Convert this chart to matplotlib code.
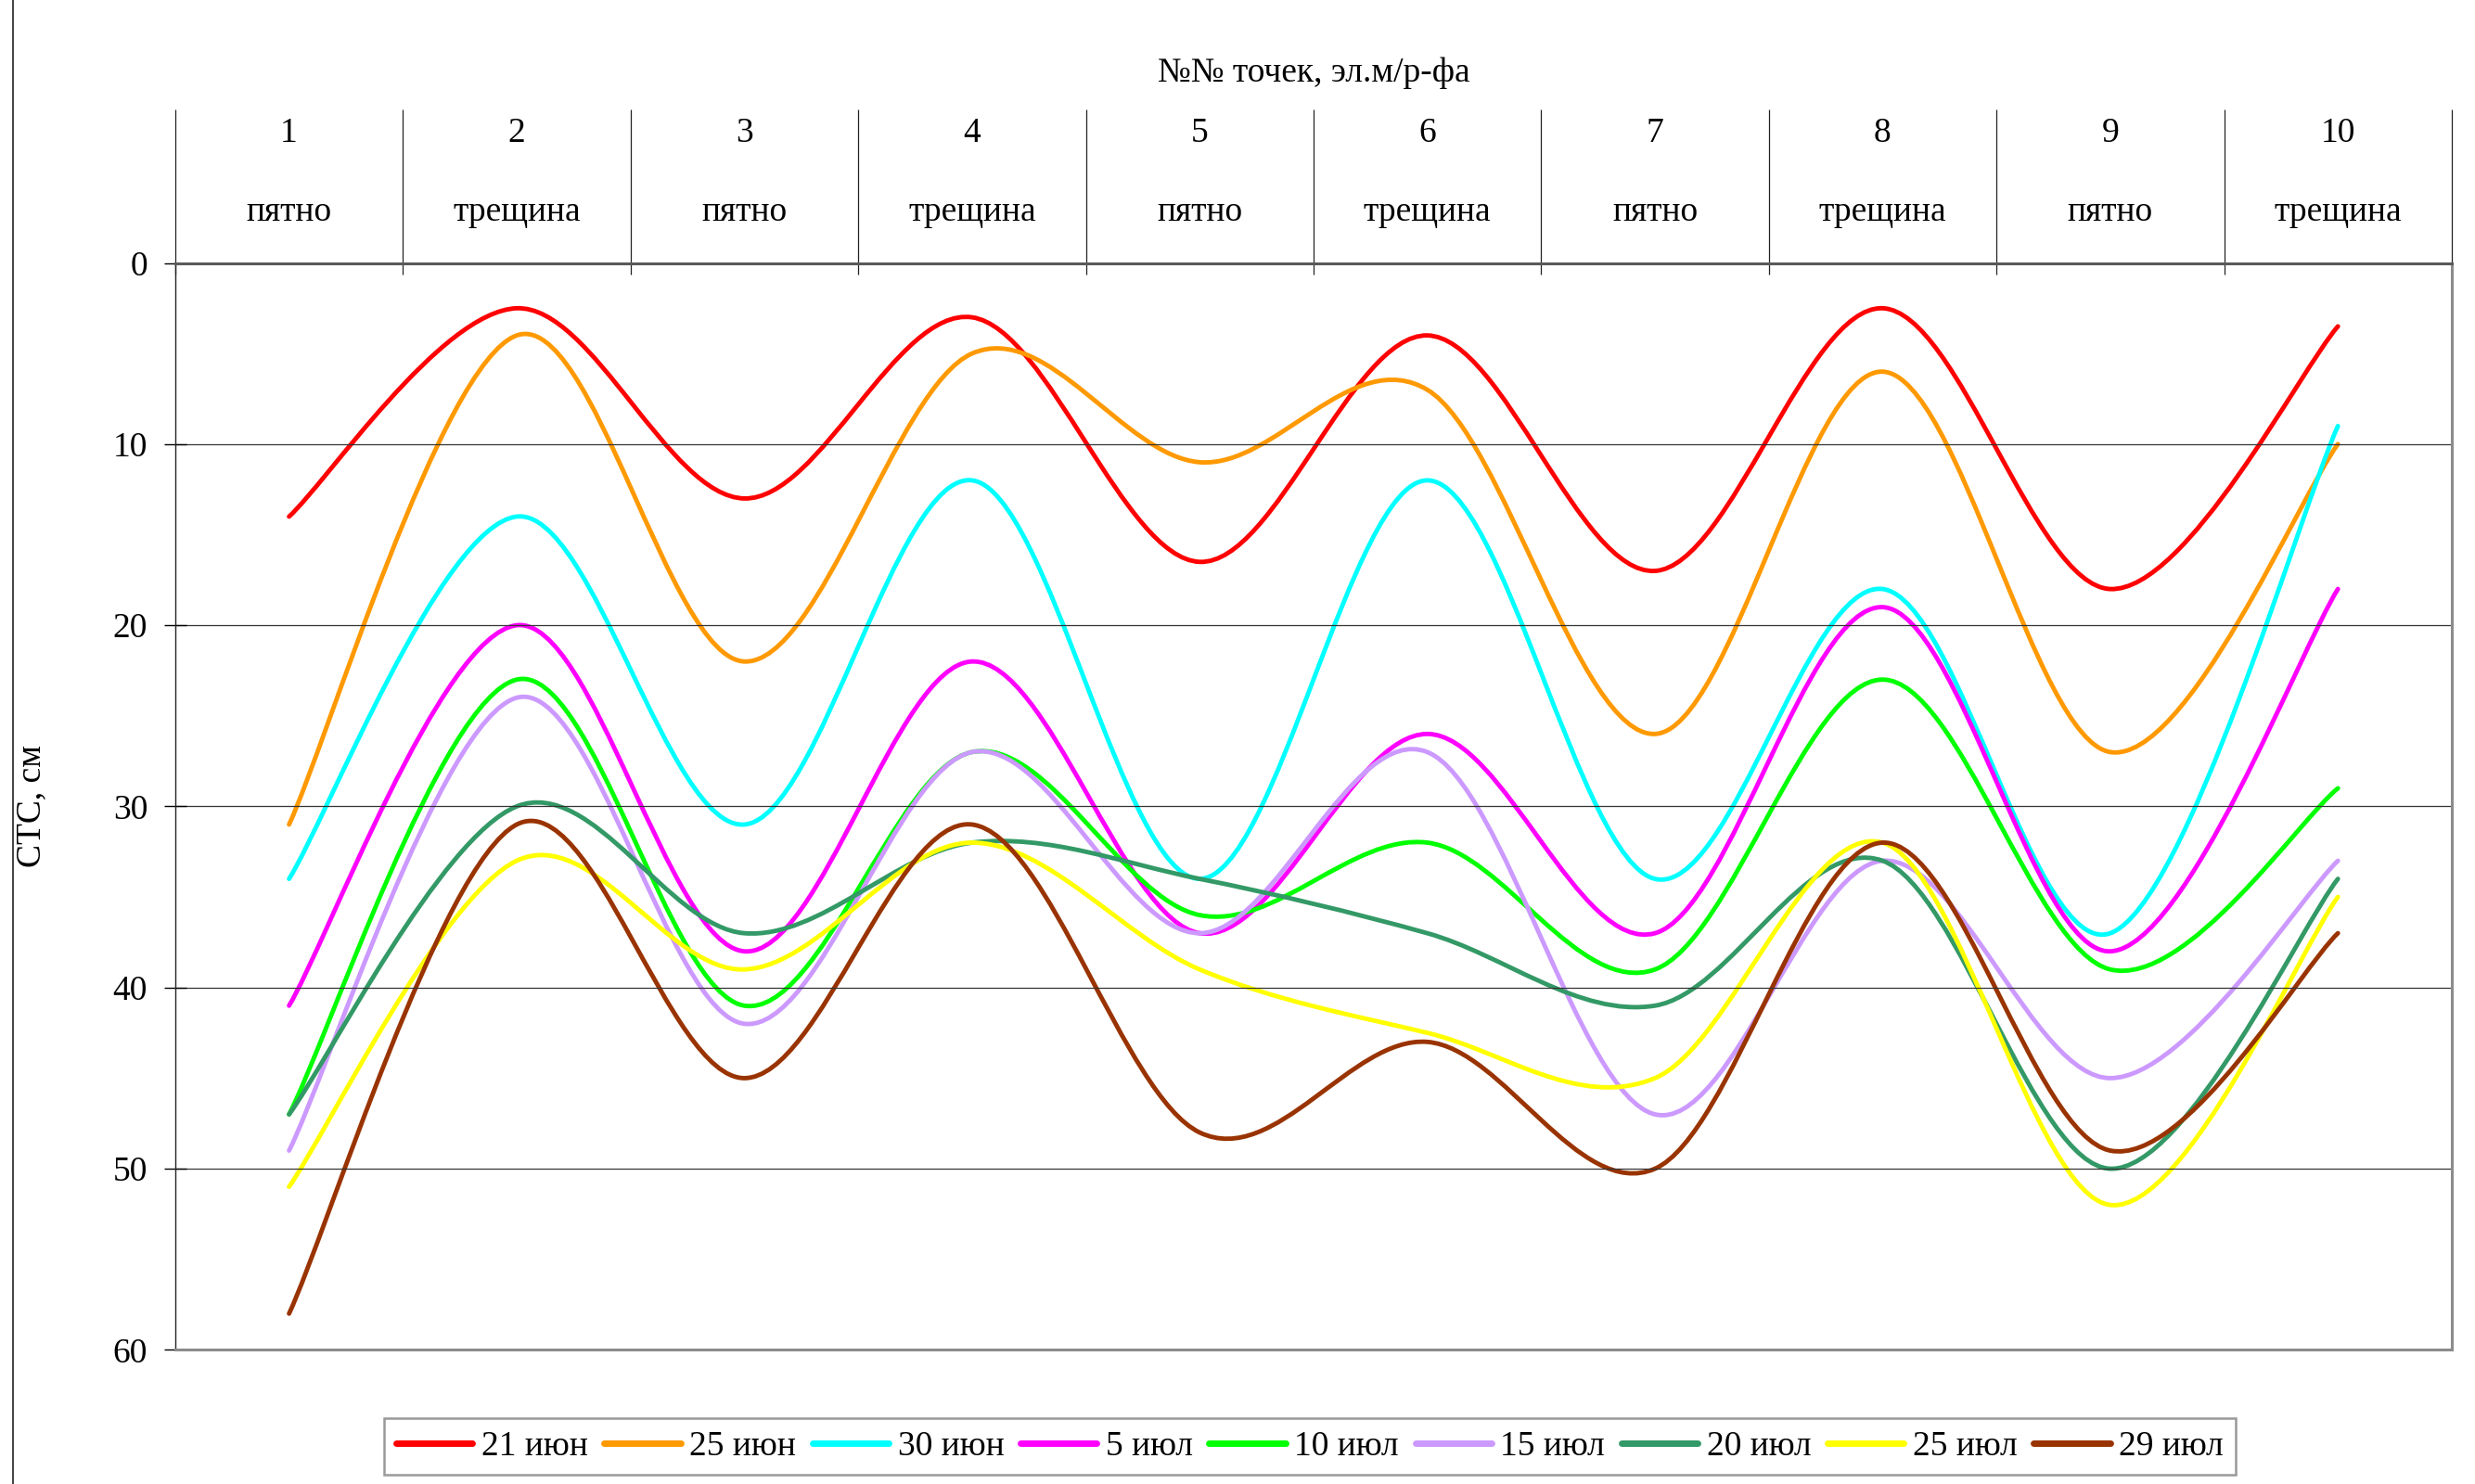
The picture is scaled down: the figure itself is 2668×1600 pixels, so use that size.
import matplotlib
matplotlib.use("Agg")
import matplotlib.pyplot as plt
from matplotlib.path import Path
from matplotlib.patches import PathPatch
from matplotlib.lines import Line2D

plt.rcParams['font.family'] = ['Liberation Serif', 'DejaVu Serif']

# номера точек и тип поверхности
points = [1, 2, 3, 4, 5, 6, 7, 8, 9, 10]
kinds = ['пятно', 'трещина'] * 5

# СТС, см по датам
dates = ['21 июн', '25 июн', '30 июн', '5 июл', '10 июл',
         '15 июл', '20 июл', '25 июл', '29 июл']
jun21 = [14, 2.5, 13, 3, 16.5, 4, 17, 2.5, 18, 3.5]
jun25 = [31, 4, 22, 5, 11, 7, 26, 6, 27, 10]
jun30 = [34, 14, 31, 12, 34, 12, 34, 18, 37, 9]
jul05 = [41, 20, 38, 22, 37, 26, 37, 19, 38, 18]
jul10 = [47, 23, 41, 27, 36, 32, 39, 23, 39, 29]
jul15 = [49, 24, 42, 27, 37, 27, 47, 33, 45, 33]
jul20 = [47, 30, 37, 32, 34, 37, 41, 33, 50, 34]
jul25 = [51, 33, 39, 32, 39, 42.5, 45, 32, 52, 35]
jul29 = [58, 31, 45, 31, 48, 43, 50, 32, 49, 37]

series = [jun21, jun25, jun30, jul05, jul10, jul15, jul20, jul25, jul29]
colors = ['#ff0000', '#ff9900', '#00ffff', '#ff00ff', '#00ff00',
          '#cc99ff', '#339966', '#ffff00', '#993300']


def smooth_path(x, y):
    # сглаженная линия как в Excel: кубические кривые Безье
    n = len(x)
    verts = [(x[0], y[0])]
    codes = [Path.MOVETO]
    for i in range(n - 1):
        i0 = max(i - 1, 0)
        i3 = min(i + 2, n - 1)
        c1 = (x[i] + (x[i + 1] - x[i0]) / 6, y[i] + (y[i + 1] - y[i0]) / 6)
        c2 = (x[i + 1] - (x[i3] - x[i]) / 6, y[i + 1] - (y[i3] - y[i]) / 6)
        verts += [c1, c2, (x[i + 1], y[i + 1])]
        codes += [Path.CURVE4] * 3
    return Path(verts, codes)


fig = plt.figure(figsize=(26.68, 16), dpi=100)
ax = fig.add_axes([0.0708, 0.0904, 0.9198, 0.7324])

fs = 27
handles = []
for vals, c, lab in zip(series, colors, dates):
    ax.add_patch(PathPatch(smooth_path(points, vals), facecolor='none',
                           edgecolor=c, lw=3.5, capstyle='round', joinstyle='round'))
    handles.append(Line2D([], [], color=c, lw=5, solid_capstyle='round', label=lab))

ax.set_xlim(0.5, 10.5)
ax.set_ylim(60, 0)
ax.set_yticks(range(0, 61, 10))
ax.set_xticks([])
ax.yaxis.grid(True, color='#333333', lw=0.9)
ax.tick_params(axis='y', direction='inout', length=17, width=1, pad=13, labelsize=fs)
ax.set_ylabel('СТС, см', fontsize=fs)
ax.yaxis.set_label_coords(-0.056, 0.5)

ax.spines['top'].set_color('#5a5a5a')
ax.spines['top'].set_linewidth(2.2)
ax.spines['bottom'].set_color('#8c8c8c')
ax.spines['bottom'].set_linewidth(2.2)
ax.spines['right'].set_color('#8c8c8c')
ax.spines['right'].set_linewidth(2.2)
ax.spines['left'].set_color('#222222')
ax.spines['left'].set_linewidth(1.0)

# шапка с номерами точек
trans = ax.get_xaxis_transform()
bounds = [p - 0.5 for p in points] + [points[-1] + 0.5]
ax.vlines(bounds, 0.9895, 1.1413, transform=trans, colors='#222222', lw=0.9, clip_on=False)
for p, k in zip(points, kinds):
    ax.text(p, 1.119, str(p), transform=trans, ha='center', va='center', fontsize=fs)
    ax.text(p, 1.047, k, transform=trans, ha='center', va='center', fontsize=fs)
ax.text(5.5, 1.175, '№№ точек, эл.м/р-фа', transform=trans, ha='center', va='center', fontsize=fs)

# рамка слева
fig.add_artist(Line2D([0.0053, 0.0053], [0, 1], transform=fig.transFigure, color='#222222', lw=1.2))

leg = fig.legend(handles=handles, loc='center', bbox_to_anchor=(0.5292, 0.0253), ncol=9,
                 fontsize=fs, frameon=True, fancybox=False, handlelength=2.2,
                 handletextpad=0.25, columnspacing=0.47, borderpad=0.35, borderaxespad=0)
leg.get_frame().set_edgecolor('#808080')
leg.get_frame().set_linewidth(1.8)

fig.savefig('out.png', dpi=100)
